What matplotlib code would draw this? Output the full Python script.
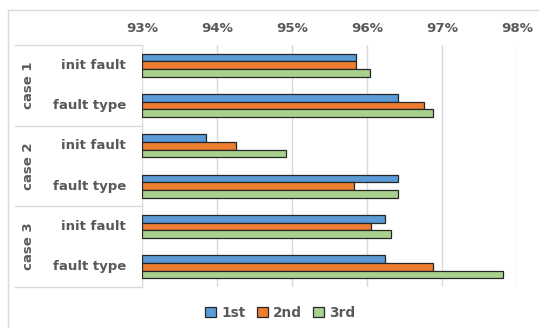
import matplotlib.pyplot as plt
import matplotlib.transforms as mtransforms
from matplotlib.patches import Rectangle
import numpy as np

# data
groups = ['case 1', 'case 2', 'case 3']
items = ['init fault', 'fault type']
series = ['1st', '2nd', '3rd']
first = [95.85, 96.42, 93.86, 96.42, 96.24, 96.24]
second = [95.85, 96.76, 94.25, 95.83, 96.06, 96.88]
third = [96.04, 96.88, 94.92, 96.42, 96.32, 97.82]
ticks = [93, 94, 95, 96, 97, 98]

colors = ['#5B9BD5', '#ED7D31', '#A9D18E']
gray = '#595959'

fig = plt.figure(figsize=(5.39, 3.28), dpi=100)
ax = fig.add_axes([142 / 539, 1 - 287 / 328, 375 / 539, 242 / 328])

y = np.arange(len(first))
h = 0.19
for i, vals in enumerate([first, second, third]):
    ax.barh(y + (i - 1) * h, np.array(vals) - 93, left=93, height=h,
            color=colors[i], edgecolor='#262626', linewidth=0.9,
            label=series[i], zorder=3)

ax.set_xlim(93, 98)
ax.set_ylim(5.5, -0.5)
ax.set_xticks(ticks)
ax.set_xticklabels([f'{t}%' for t in ticks], fontsize=9.6, fontweight='bold', color=gray)
ax.xaxis.tick_top()
ax.tick_params(axis='x', length=0, pad=7)
ax.set_yticks([])
ax.grid(axis='x', color='#D9D9D9', linewidth=1, zorder=0)
for s in ax.spines.values():
    s.set_visible(False)

# category labels
trans = mtransforms.blended_transform_factory(ax.transAxes, ax.transData)
x_lab = (126 - 142) / 375
x_left = (15 - 142) / 375
x_grp = (28 - 142) / 375
for k in range(len(first)):
    ax.text(x_lab, k, items[k % 2], transform=trans, ha='right', va='center',
            fontsize=9.5, fontweight='bold', color=gray)
for g, name in enumerate(groups):
    ax.text(x_grp, 2 * g + 0.5, name, transform=trans, ha='center', va='center',
            rotation=90, fontsize=9.5, fontweight='bold', color=gray)
for yb in [-0.5, 1.5, 3.5, 5.5]:
    ax.plot([x_left, 0], [yb, yb], transform=trans, color='#D9D9D9',
            linewidth=1, clip_on=False)

# outer frame
fig.patches.append(Rectangle((8 / 539, -0.1), 1.1, 1 - 10 / 328 + 0.1,
                             transform=fig.transFigure, fill=False,
                             edgecolor='#D9D9D9', linewidth=1))

fig.legend(loc='center', bbox_to_anchor=(0.52, 1 - 313 / 328), ncol=3,
           frameon=False, handlelength=0.8, handleheight=0.8,
           handletextpad=0.4, columnspacing=0.8,
           prop={'size': 9.8, 'weight': 'bold'}, labelcolor=gray)

fig.savefig('out.png', dpi=100)
